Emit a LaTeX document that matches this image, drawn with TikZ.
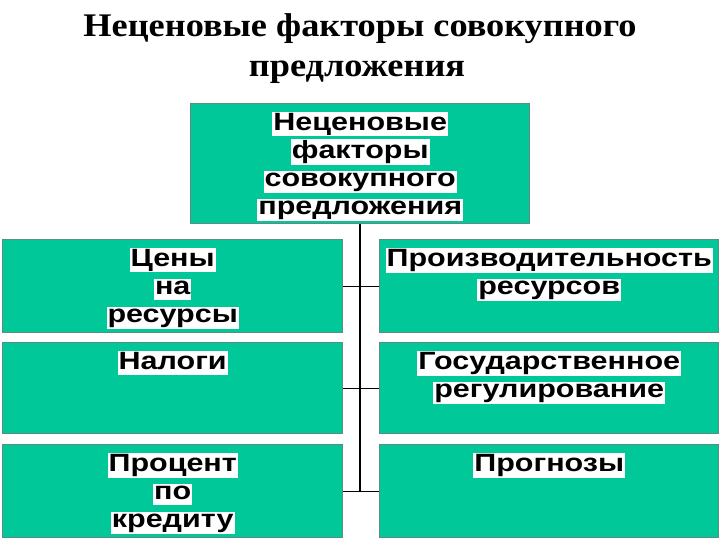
\documentclass[tikz,border=0pt]{standalone}
\usepackage{fontspec}
\setmainfont{Liberation Serif}
\newfontfamily\boxfont[FakeStretch=1.22]{Liberation Sans}
\newfontfamily\titlefont[FakeStretch=1.1]{Liberation Serif}
\definecolor{boxteal}{RGB}{0,200,152}
\definecolor{boxedge}{RGB}{95,140,128}
\newcommand\hlline[1]{\colorbox{white}{\rule[-0.2em]{0pt}{0.76em}#1}}
\setlength\fboxsep{1pt}
\tikzset{
  factbox/.style={rectangle, fill=boxteal, draw=boxedge, line width=1.4pt,
    anchor=north west, inner sep=0pt},
  facttext/.style={anchor=north, inner sep=0pt, align=center,
    font={\boxfont\bfseries\fontsize{25}{28}\selectfont}},
  titletext/.style={anchor=base, inner sep=0pt,
    font={\titlefont\bfseries\fontsize{33}{40}\selectfont}},
  trunk/.style={line width=1.6pt, black},
  tick/.style={line width=0.8pt, black}
}
\begin{document}
\begin{tikzpicture}[x=1pt,y=-1pt]
\useasboundingbox (0,0) rectangle (720,540);
\node[titletext] (t1) at (360,37) {Неценовые факторы совокупного};
\node[titletext] (t2) at (357,77) {предложения};
% boxes
\node[factbox, minimum width=339pt, minimum height=120pt] (top) at (190,103) {};
\node[factbox, minimum width=340pt, minimum height=93pt] (L1) at (2,239) {};
\node[factbox, minimum width=340pt, minimum height=91pt] (L2) at (2,342) {};
\node[factbox, minimum width=340pt, minimum height=93pt] (L3) at (2,444) {};
\node[factbox, minimum width=339pt, minimum height=93pt] (R1) at (379,239) {};
\node[factbox, minimum width=339pt, minimum height=91pt] (R2) at (379,342) {};
\node[factbox, minimum width=339pt, minimum height=93pt] (R3) at (379,444) {};
% texts
\node[facttext] (topt) at ([yshift=-9pt]top.north) {\hlline{Неценовые}\\\hlline{факторы}\\\hlline{совокупного}\\\hlline{предложения}};
\node[facttext] (L1t) at ([yshift=-9pt]L1.north) {\hlline{Цены}\\\hlline{на}\\\hlline{ресурсы}};
\node[facttext] (L2t) at ([yshift=-9pt]L2.north) {\hlline{Налоги}};
\node[facttext] (L3t) at ([yshift=-9pt]L3.north) {\hlline{Процент}\\\hlline{по}\\\hlline{кредиту}};
\node[facttext] (R1t) at ([yshift=-9pt]R1.north) {\hlline{Производительность}\\\hlline{ресурсов}};
\node[facttext] (R2t) at ([yshift=-9pt]R2.north) {\hlline{Государственное}\\\hlline{регулирование}};
\node[facttext] (R3t) at ([yshift=-9pt]R3.north) {\hlline{Прогнозы}};
% connectors
\draw[trunk] (top.south) -- (top.south |- L3.east);
\draw[tick] (L1.east) -- (R1.west);
\draw[tick] (L2.east) -- (R2.west);
\draw[tick] (L3.east) -- (R3.west);
\end{tikzpicture}
\end{document}
